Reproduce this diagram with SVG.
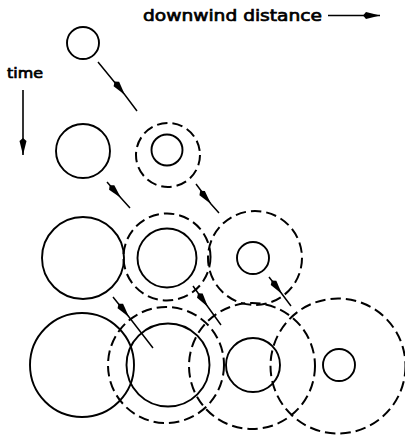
<svg xmlns="http://www.w3.org/2000/svg" width="405" height="439" viewBox="0 0 405 439">
  <style>
    .solid { fill: none; stroke: #000; stroke-width: 1.9; }
    .dash { fill: none; stroke: #000; stroke-width: 2; stroke-dasharray: 10.5 5; }
    .conn { fill: none; stroke: #000; stroke-width: 1.5; marker-mid: url(#head); }
    .lbl { font-family: "DejaVu Sans", "Liberation Sans", sans-serif; font-weight: normal; fill: #000; stroke: #000; stroke-width: 0.7; }
  </style>
  <defs>
    <marker id="head" viewBox="-18 -5 20 10" refX="0" refY="0" markerWidth="20" markerHeight="10" markerUnits="userSpaceOnUse" orient="auto">
      <polygon points="0,0 -14,-3.5 -17,0 -14,3.5" fill="#000"/>
    </marker>
    <marker id="endhead" viewBox="-18 -5 20 10" refX="0" refY="0" markerWidth="20" markerHeight="10" markerUnits="userSpaceOnUse" orient="auto">
      <polygon points="0,0 -14,-3.5 -17,0 -14,3.5" fill="#000"/>
    </marker>
  </defs>

  <!-- axis labels -->
  <g id="axis-distance">
    <text class="lbl" x="143" y="21" font-size="16" textLength="179" lengthAdjust="spacingAndGlyphs">downwind distance</text>
    <line x1="328" y1="15.5" x2="380" y2="15.5" stroke="#000" stroke-width="1.6" marker-end="url(#endhead)"/>
  </g>
  <g id="axis-time">
    <text class="lbl" x="7" y="78" font-size="14" textLength="36" lengthAdjust="spacingAndGlyphs">time</text>
    <line x1="23" y1="90" x2="23" y2="155" stroke="#000" stroke-width="1.6" marker-end="url(#endhead)"/>
  </g>

  <!-- row 1 -->
  <g id="n1"><circle class="solid" cx="83" cy="43" r="16"/></g>

  <!-- row 2 -->
  <g id="n2"><circle class="solid" cx="83" cy="151" r="27"/></g>
  <g id="n3">
    <circle class="dash" cx="168" cy="155" r="32"/>
    <circle class="solid" cx="167" cy="150" r="15.5"/>
  </g>

  <!-- row 3 -->
  <g id="n4"><circle class="solid" cx="83" cy="258" r="41"/></g>
  <g id="n5">
    <circle class="dash" cx="167" cy="257" r="43.5"/>
    <circle class="solid" cx="167" cy="258" r="29.5"/>
  </g>
  <g id="n6">
    <circle class="dash" cx="255" cy="258" r="47"/>
    <circle class="solid" cx="253" cy="258" r="16"/>
  </g>

  <!-- row 4 -->
  <g id="n7"><circle class="solid" cx="82" cy="365" r="52"/></g>
  <g id="n8">
    <circle class="dash" cx="166" cy="365" r="58"/>
    <circle class="solid" cx="168" cy="365" r="41.5"/>
  </g>
  <g id="n9">
    <circle class="dash" cx="252" cy="366" r="63"/>
    <circle class="solid" cx="253" cy="365" r="27"/>
  </g>
  <g id="n10">
    <circle class="dash" cx="338" cy="366" r="67.5"/>
    <circle class="solid" cx="339" cy="365" r="16"/>
  </g>

  <!-- connectors: arrowhead sits part-way along each line -->
  <g id="connectors">
    <path class="conn" d="M98,62 L125,95 L137,111"/>
    <path class="conn" d="M107,182 L121,198 L130,208"/>
    <path class="conn" d="M196,184 L211,204 L219,213"/>
    <path class="conn" d="M113,297 L129,317 L153,348"/>
    <path class="conn" d="M193,286 L208,307 L221,325"/>
    <path class="conn" d="M269,277 L282,294 L291,306"/>
  </g>
</svg>
